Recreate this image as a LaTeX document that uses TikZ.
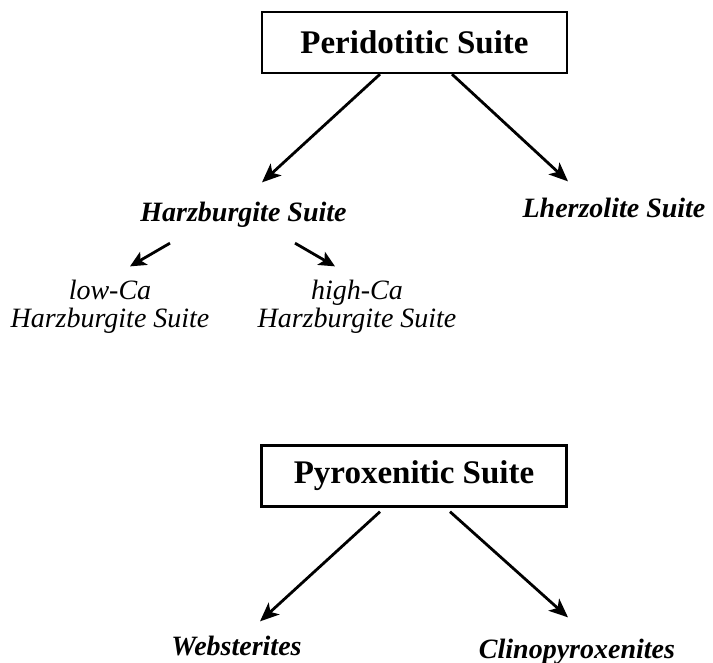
\documentclass[tikz,border=0pt]{standalone}
\usepackage{fontspec}
\setmainfont{Liberation Serif}
\usetikzlibrary{arrows.meta}
\begin{document}
\begin{tikzpicture}[x=1pt,y=-1pt,
  boxnode/.style={draw,line width=2.4pt,minimum width=305pt,minimum height=61pt,inner sep=0pt,font=\fontsize{33}{36}\selectfont\bfseries},
  bi/.style={inner sep=0pt,font=\fontsize{28}{30}\selectfont\bfseries\itshape},
  it/.style={inner sep=0pt,font=\fontsize{28}{30}\selectfont\itshape},
  arr/.style={line width=2.8pt,-{Stealth[length=19pt,width=16pt,inset=5pt]}},
  sarr/.style={line width=2.8pt,-{Stealth[length=16pt,width=15pt,inset=4pt]}}]
\useasboundingbox (0,0) rectangle (713,663);
\node[boxnode] (peri) at (414.5,42.5) {Peridotitic Suite};
\node[bi,anchor=base] (harz) at (243.5,222) {Harzburgite Suite};
\node[bi,anchor=base] (lherz) at (614,218) {Lherzolite Suite};
\node[it,anchor=base] (low1) at (110,300) {low-Ca};
\node[it,anchor=base] (low2) at (110,328) {Harzburgite Suite};
\node[it,anchor=base] (high1) at (357,300) {high-Ca};
\node[it,anchor=base] (high2) at (357,328) {Harzburgite Suite};
\node[boxnode] (pyro) at (414,476) {Pyroxenitic Suite};
\node[bi,anchor=base] (webst) at (236.5,655) {Websterites};
\node[bi,anchor=base] (clino) at (577,658) {Clinopyroxenites};
\draw[arr] ([xshift=-34.5pt]peri.south) -- ([xshift=18.5pt,yshift=20pt]harz.north);
\draw[arr] ([xshift=37.5pt]peri.south) -- ([xshift=-46pt,yshift=17pt]lherz.north);
\draw[sarr] ([xshift=-73.5pt,yshift=-15pt]harz.south) -- ([xshift=20pt,yshift=14pt]low1.north);
\draw[sarr] ([xshift=51.5pt,yshift=-15pt]harz.south) -- ([xshift=-22pt,yshift=14pt]high1.north);
\draw[arr] ([xshift=-34pt,yshift=-4pt]pyro.south) -- ([xshift=23.5pt,yshift=14pt]webst.north);
\draw[arr] ([xshift=36pt,yshift=-4pt]pyro.south) -- ([xshift=-9pt,yshift=21pt]clino.north);
\end{tikzpicture}
\end{document}
